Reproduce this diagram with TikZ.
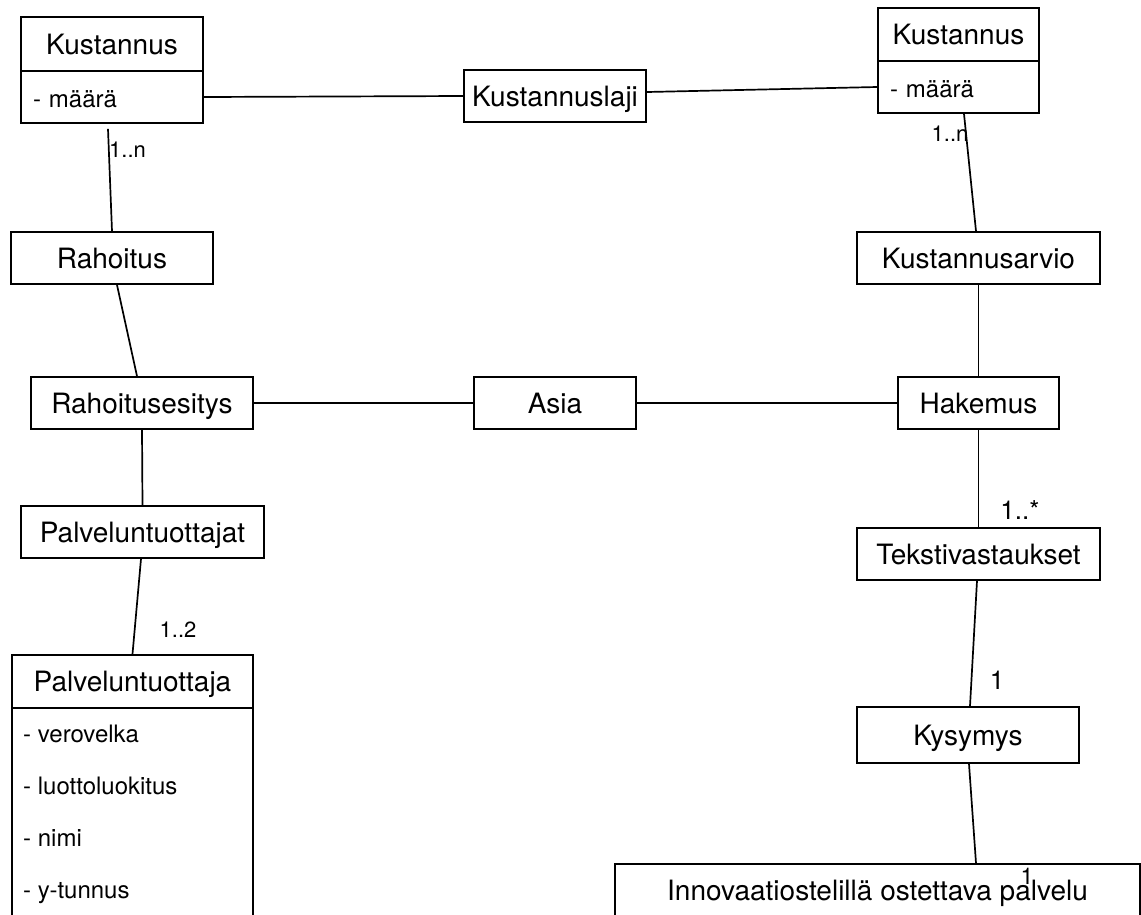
\documentclass[tikz,border=0pt]{standalone}
\usepackage{fontspec}
\setmainfont{TeX Gyre Heros}
\begin{document}
\begin{tikzpicture}[x=1pt,y=-1pt,
  umlbox/.style={draw, line width=1.8pt, inner sep=0pt,
    font=\fontsize{28}{32}\selectfont, text height=20pt, text depth=0pt},
  attrbox/.style={draw, line width=1.8pt, inner sep=0pt,
    font=\fontsize{24}{28}\selectfont, text height=20pt, text depth=0pt, align=left},
  attrtext/.style={inner sep=0pt, anchor=base west, font=\fontsize{24}{28}\selectfont},
  mult/.style={inner sep=0pt, font=\fontsize{22}{26}\selectfont},
  multbig/.style={inner sep=0pt, font=\fontsize{26}{30}\selectfont},
  conn/.style={line width=1.7pt}]
\fill[white] (0,0) rectangle (1141,914);
\useasboundingbox (0,0) rectangle (1141,914);
\clip (0,0) rectangle (1141,914);

% class boxes
\node[umlbox, minimum width=182, minimum height=54] (kustLt) at (112,44) {Kustannus};
\node[attrbox, minimum width=182, minimum height=52, text width=158] (kustLa) at (112,97) {- määrä};
\node[umlbox, minimum width=182, minimum height=52] (laji) at (555,96) {Kustannuslaji};
\node[umlbox, minimum width=161, minimum height=53] (kustRt) at (958.5,34.5) {Kustannus};
\node[attrbox, minimum width=161, minimum height=52, text width=137] (kustRa) at (958.5,87) {- määrä};

\node[umlbox, minimum width=202, minimum height=52] (rahoitus) at (112,258) {Rahoitus};
\node[umlbox, minimum width=243, minimum height=52] (arvio) at (978.5,258) {Kustannusarvio};

\node[umlbox, minimum width=222, minimum height=52] (esitys) at (142,403) {Rahoitusesitys};
\node[umlbox, minimum width=162, minimum height=52] (asia) at (555,403) {Asia};
\node[umlbox, minimum width=161, minimum height=52] (hakemus) at (978.5,403) {Hakemus};

\node[umlbox, minimum width=243, minimum height=52] (ptjat) at (142.5,532) {Palveluntuottajat};
\node[umlbox, minimum width=243, minimum height=52] (tekst) at (978.5,554) {Tekstivastaukset};

\node[umlbox, minimum width=241, minimum height=53] (ptajat) at (132.5,681.5) {Palveluntuottaja};
\node[umlbox, minimum width=241, minimum height=222] (ptajab) at (132.5,819) {};
\node[attrtext] (a1) at (23,742) {- verovelka};
\node[attrtext] (a2) at (23,794) {- luottoluokitus};
\node[attrtext] (a3) at (23,846) {- nimi};
\node[attrtext] (a4) at (23,898) {- y-tunnus};

\node[umlbox, minimum width=222, minimum height=56] (kysymys) at (968,735) {Kysymys};
\node[umlbox, minimum width=525, minimum height=52] (innov) at (877.5,890) {Innovaatiostelillä ostettava palvelu};

% associations
\draw[conn] (kustLa.east) -- (laji.west);
\draw[conn] ([yshift=4pt]laji.east) -- (kustRa.west);
\draw[conn] ([xshift=-4pt,yshift=-5pt]kustLa.south) -- (rahoitus.north);
\draw[conn] ([xshift=5.5pt]kustRa.south) -- ([xshift=-2.5pt]arvio.north);
\draw[conn] ([xshift=5pt]rahoitus.south) -- ([xshift=-5pt]esitys.north);
\draw[conn] (arvio.south) -- (hakemus.north);
\draw[conn] (esitys.east) -- (asia.west);
\draw[conn] (asia.east) -- (hakemus.west);
\draw[conn] (esitys.south) -- (ptjat.north);
\draw[conn] ([xshift=-1.5pt]ptjat.south) -- (ptajat.north);
\draw[conn] (hakemus.south) -- (tekst.north);
\draw[conn] ([xshift=-1.5pt]tekst.south) -- ([xshift=2pt]kysymys.north);
\draw[conn] ([xshift=1pt]kysymys.south) -- ([xshift=98.5pt]innov.north);

% multiplicities
\node[mult, anchor=west] (mL) at (109,150) {1..n};
\node[mult] (mR) at (950,134) {1..n};
\node[mult] (m2) at (178,630) {1..2};
\node[multbig] (mS) at (1020,510) {1..*};
\node[multbig] (m1) at (997,680) {1};
\node[mult, font=\fontsize{23}{27}\selectfont] (m1b) at (1027,876) {1};
\end{tikzpicture}
\end{document}
